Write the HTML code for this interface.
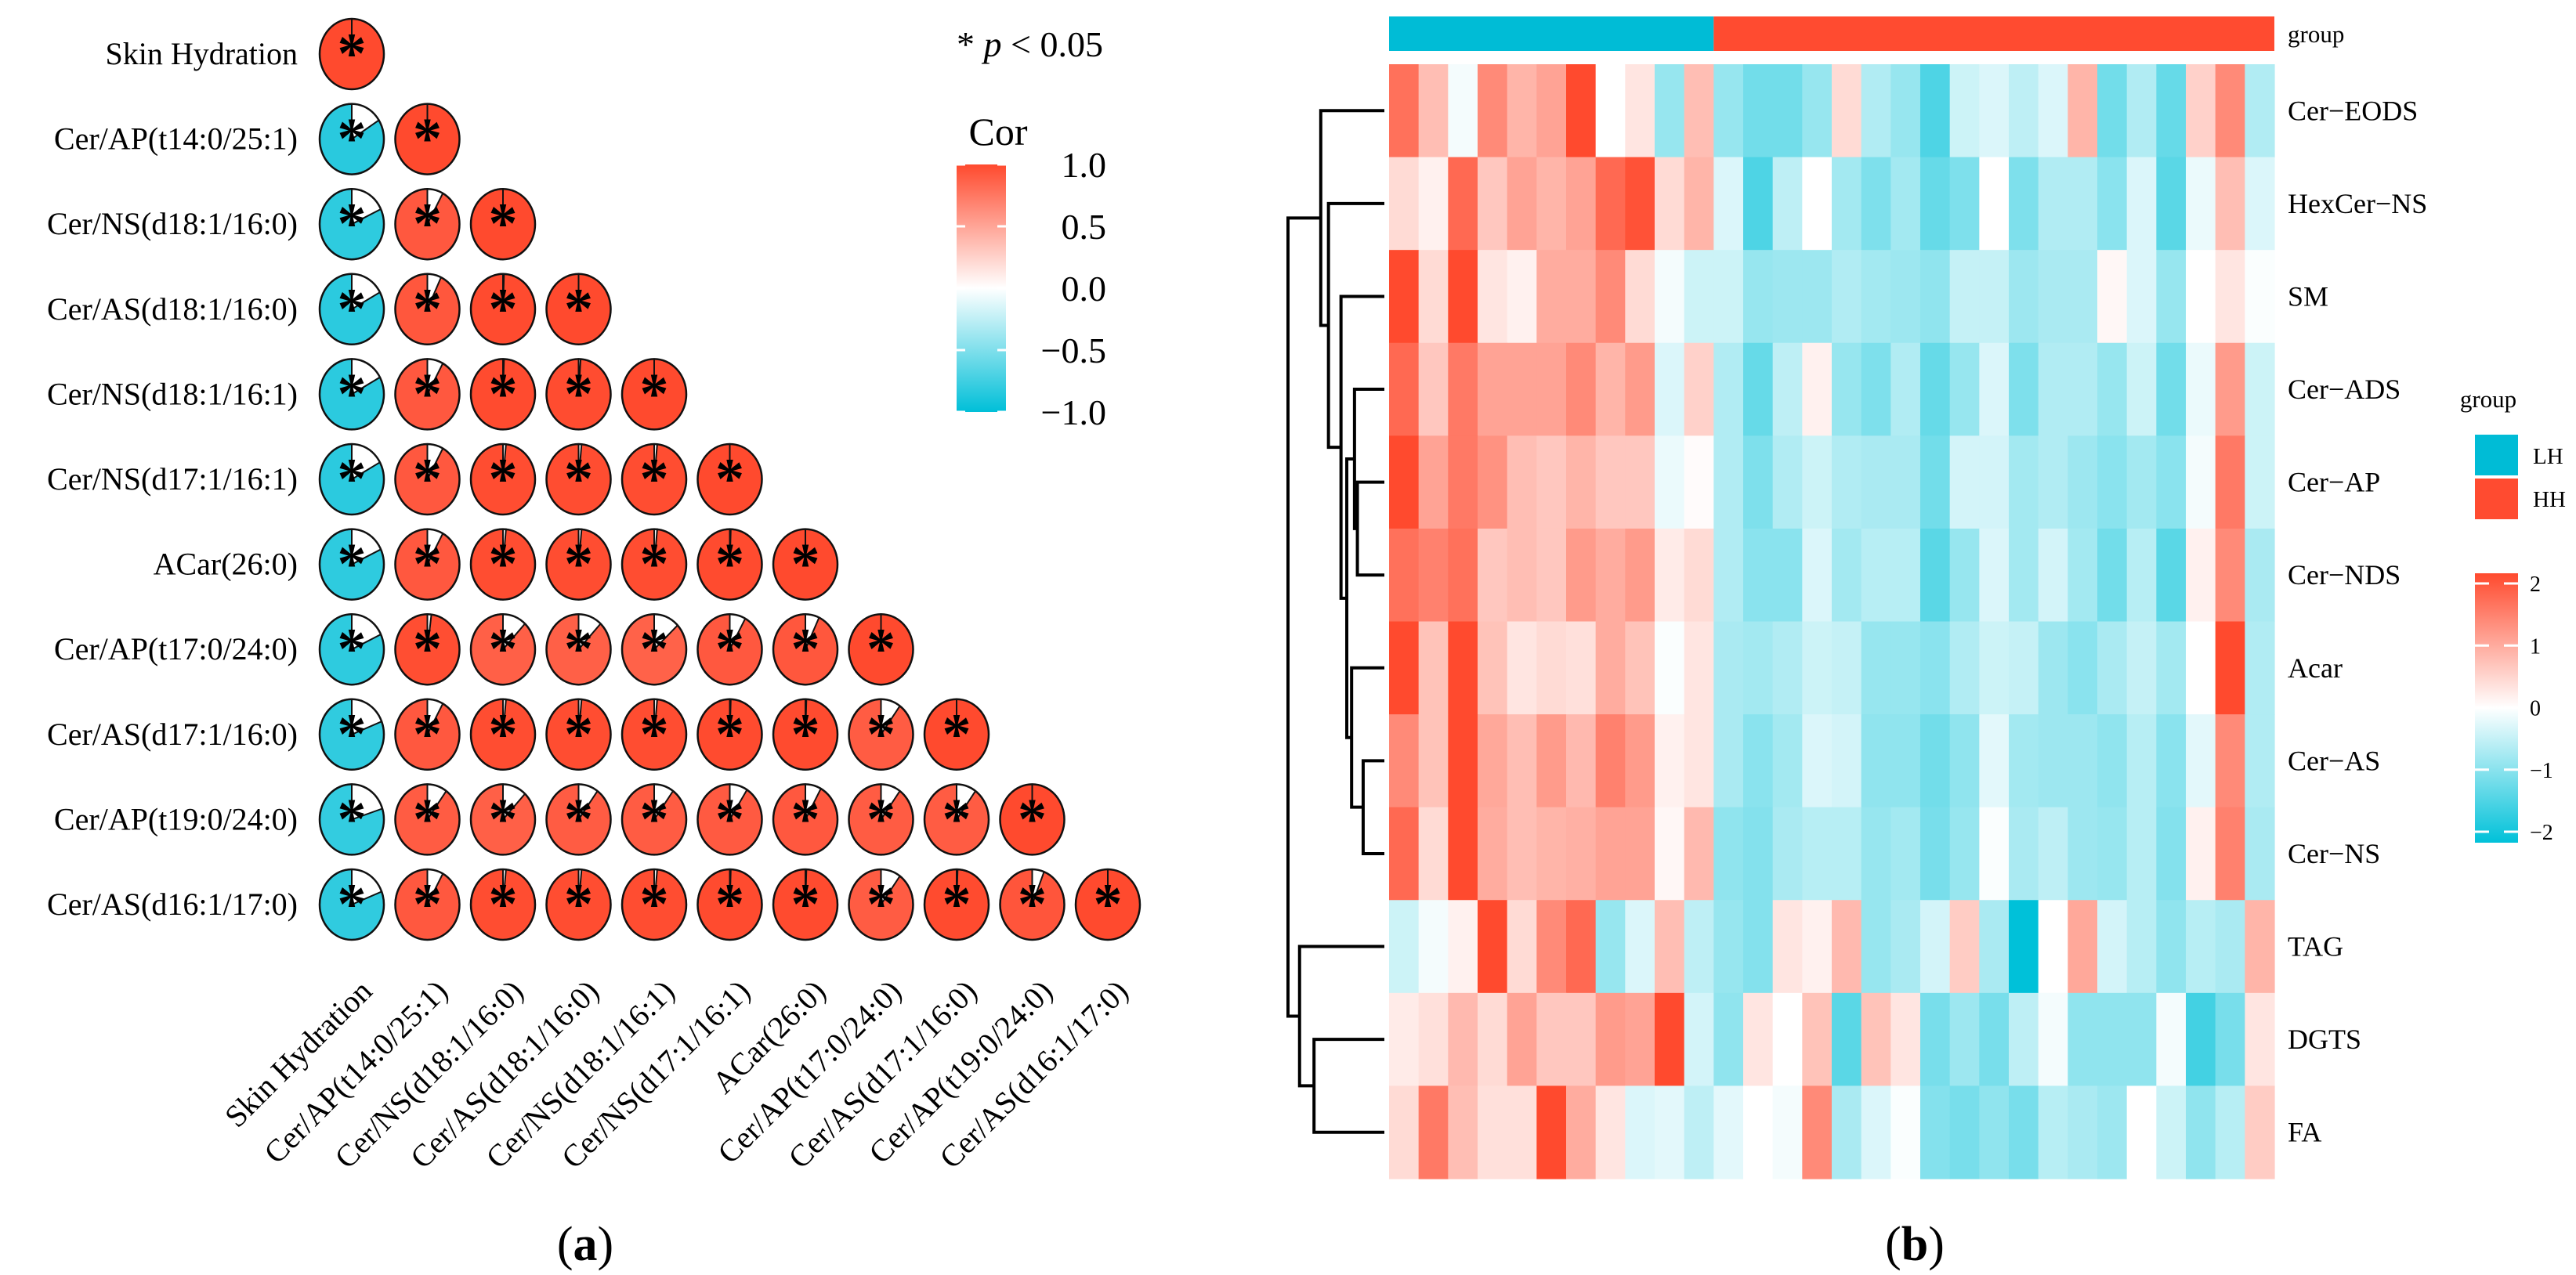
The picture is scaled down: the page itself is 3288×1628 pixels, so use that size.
<!DOCTYPE html>
<html><head><meta charset="utf-8"><style>
html,body{margin:0;padding:0;background:#fff;}
svg{display:block;font-family:"Liberation Serif",serif;}
</style></head><body>
<svg id="fig" width="3288" height="1628" viewBox="0 0 3288 1628" xmlns="http://www.w3.org/2000/svg">
<defs>
<linearGradient id="corGrad" x1="0" y1="0" x2="0" y2="1">
<stop offset="0" stop-color="#FF4A2E"/><stop offset="0.5" stop-color="#FFFFFF"/><stop offset="1" stop-color="#00BFD8"/>
</linearGradient>
<linearGradient id="hmGrad" x1="0" y1="0" x2="0" y2="1">
<stop offset="0" stop-color="#FF4A2E"/><stop offset="0.5" stop-color="#FFFFFF"/><stop offset="1" stop-color="#00C1D9"/>
</linearGradient>
</defs>
<g id="panelA"></g>
<g id="panelB"></g>
<text x="747" y="1609" font-size="62" text-anchor="middle">(<tspan font-weight="bold">a</tspan>)</text>
<text x="2444" y="1609" font-size="62" text-anchor="middle">(<tspan font-weight="bold">b</tspan>)</text>
</svg>
<script>
// ---------- Panel A data ----------
const corLabels = ["Skin Hydration","Cer/AP(t14:0/25:1)","Cer/NS(d18:1/16:0)","Cer/AS(d18:1/16:0)","Cer/NS(d18:1/16:1)","Cer/NS(d17:1/16:1)","ACar(26:0)","Cer/AP(t17:0/24:0)","Cer/AS(d17:1/16:0)","Cer/AP(t19:0/24:0)","Cer/AS(d16:1/17:0)"];
const corRow1 = [-0.84, 1];
const corRow2 = [-0.82, 0.92, 1];
const corRow3 = [-0.83, 0.93, 0.995, 1];
const corRow4 = [-0.83, 0.92, 0.995, 0.99, 1];
const corRow5 = [-0.83, 0.92, 0.985, 0.985, 0.985, 1];
const corRow6 = [-0.82, 0.92, 0.985, 0.985, 0.985, 0.995, 1];
const corRow7 = [-0.82, 0.98, 0.88, 0.88, 0.87, 0.92, 0.93, 1];
const corRow8 = [-0.81, 0.92, 0.985, 0.985, 0.985, 0.995, 0.995, 0.9, 1];
const corRow9 = [-0.8, 0.9, 0.88, 0.9, 0.9, 0.91, 0.92, 0.9, 0.9, 1];
const corRow10 = [-0.81, 0.92, 0.985, 0.985, 0.985, 0.995, 0.995, 0.9, 0.995, 0.94, 1];
const corRows = [[1], corRow1, corRow2, corRow3, corRow4, corRow5, corRow6, corRow7, corRow8, corRow9, corRow10];
const corTicks = ["1.0","0.5","0.0","\u22120.5","\u22121.0"];
const corTickVals = [1, 0.5, 0, -0.5, -1];

// ---------- Panel B data ----------
const hmRows = ["Cer\u2212EODS","HexCer\u2212NS","SM","Cer\u2212ADS","Cer\u2212AP","Cer\u2212NDS","Acar","Cer\u2212AS","Cer\u2212NS","TAG","DGTS","FA"];
const groupLH = 11;
const groupHH = 19;
const hmEODS = [1.5,0.6,-0.05,1.2,0.7,0.9,2,0,0.2,-0.7,0.6,-0.7,-1.0,-1.0,-0.7,0.3,-0.5,-0.7,-1.3,-0.3,-0.2,-0.4,-0.2,0.7,-1.0,-0.5,-1.1,0.4,1.2,-0.5];
const hmHexNS = [0.3,0.1,1.6,0.5,0.9,0.7,0.9,1.6,1.9,0.3,0.7,-0.2,-1.3,-0.4,0,-0.6,-0.9,-0.6,-1.1,-0.9,0,-0.9,-0.5,-0.5,-0.8,-0.2,-1.2,-0.1,0.6,-0.2];
const hmSM = [2,0.3,2,0.2,0.1,0.8,0.8,1.2,0.3,-0.05,-0.3,-0.3,-0.7,-0.65,-0.65,-0.5,-0.6,-0.65,-0.75,-0.35,-0.35,-0.65,-0.55,-0.55,0.05,-0.2,-0.7,0,0.2,-0.02];
const hmADS = [1.6,0.5,1.4,0.9,0.9,0.9,1.2,0.7,1.0,-0.2,0.4,-0.5,-1.1,-0.4,0.1,-0.7,-0.9,-0.5,-1.1,-0.7,-0.2,-0.9,-0.5,-0.5,-0.7,-0.3,-1.0,-0.1,1.0,-0.3];
const hmAP = [2,0.9,1.4,1.1,0.6,0.5,0.7,0.5,0.5,-0.1,0.02,-0.5,-0.9,-0.5,-0.3,-0.5,-0.55,-0.55,-1.0,-0.25,-0.25,-0.6,-0.5,-0.65,-0.8,-0.6,-0.8,-0.05,1.4,-0.3];
const hmNDS = [1.5,1.3,1.5,0.5,0.6,0.5,1.0,0.8,1.0,0.15,0.3,-0.5,-0.8,-0.8,-0.2,-0.6,-0.45,-0.45,-1.2,-0.7,-0.2,-0.6,-0.25,-0.6,-1.0,-0.45,-1.2,0.1,1.2,-0.55];
const hmAcar = [2,0.55,2,0.55,0.2,0.3,0.25,0.8,0.55,-0.02,0.2,-0.55,-0.6,-0.5,-0.3,-0.35,-0.7,-0.7,-0.8,-0.5,-0.3,-0.35,-0.65,-0.8,-0.55,-0.35,-0.6,0,2,-0.5];
const hmAS = [1.2,0.55,2,0.85,0.6,1.0,0.65,1.3,1.0,0.1,0.2,-0.55,-0.8,-0.6,-0.2,-0.25,-0.75,-0.75,-1.0,-0.75,-0.15,-0.6,-0.65,-0.65,-0.75,-0.45,-0.8,-0.15,1.2,-0.5];
const hmNS = [1.6,0.3,2,0.8,0.6,0.7,0.75,0.9,0.9,0.05,0.65,-0.75,-0.85,-0.55,-0.45,-0.45,-0.7,-0.6,-0.95,-0.7,-0.02,-0.55,-0.4,-0.65,-0.7,-0.45,-0.85,0.1,1.3,-0.55];
const hmTAG = [-0.3,-0.05,0.1,2,0.3,1.2,1.6,-0.7,-0.2,0.6,-0.4,-0.7,-0.85,0.2,0.1,0.65,-0.7,-0.55,-0.25,0.45,-0.55,-2,0,0.85,-0.25,-0.45,-0.75,-0.45,-0.55,0.7];
const hmDGTS = [0.15,0.25,0.65,0.3,0.9,0.5,0.5,1.0,0.9,2,-0.25,-0.75,0.2,0,0.55,-1.2,0.55,0.2,-0.95,-0.65,-0.95,-0.4,-0.05,-0.75,-0.75,-0.75,-0.05,-1.4,-0.95,0.2];
const hmFA = [0.3,1.4,0.6,0.25,0.25,2,0.8,0.2,-0.2,-0.15,-0.4,-0.15,0,-0.05,1.2,-0.55,-0.2,-0.02,-0.85,-0.95,-0.75,-0.95,-0.45,-0.55,-0.65,0,-0.3,-0.75,-0.45,0.45];
const hmData = [hmEODS,hmHexNS,hmSM,hmADS,hmAP,hmNDS,hmAcar,hmAS,hmNS,hmTAG,hmDGTS,hmFA];
const hmTicks = ["2","1","0","\u22121","\u22122"];
const hmTickVals = [2,1,0,-1,-2];
const dendMerges = [
  [4, 5, 0.28],
  [3, "n0", 0.31],
  [7, 8, 0.22],
  [6, "n2", 0.34],
  ["n1","n3",0.39],
  [2, "n4", 0.45],
  [1, "n5", 0.58],
  [0, "n6", 0.66],
  [10, 11, 0.73],
  [9, "n8", 0.88],
  ["n7","n9",1.0]
];

const NS = "http://www.w3.org/2000/svg";
function mk(tag, attrs, parent){
  const e = document.createElementNS(NS, tag);
  for (const k in attrs) e.setAttribute(k, attrs[k]);
  parent.appendChild(e);
  return e;
}
function mix(c1, c2, t){
  return "rgb(" + c1.map((v,i)=>Math.round(v+(c2[i]-v)*t)).join(",") + ")";
}
const RED=[255,74,46], WHITE=[255,255,255], CYAN=[0,191,216], CYAN2=[0,193,217];

// ---------- Panel A ----------
const A = document.getElementById("panelA");
const cx0 = 449, dx = 96.5, cy0 = 69, dy = 108.6, rx = 41, ry = 45;
const colX = j => cx0 + j*dx;
const rowY = i => cy0 + i*dy;
function corColor(r){ return r>=0 ? mix(WHITE, RED, r) : mix(WHITE, CYAN, -r); }

corLabels.forEach((lab,i)=>{
  const t = mk("text",{x:380,y:rowY(i)+13,"font-size":40,"text-anchor":"end"},A);
  t.textContent = lab;
  
  
  const b = mk("text",{x:colX(i)+28,y:1268,"font-size":40,"text-anchor":"end",transform:`rotate(-45 ${colX(i)+28} 1268)`},A);
  b.textContent = lab;
  
  
});

corRows.forEach((row,i)=>{
  row.forEach((r,j)=>{
    const cx = colX(j), cy = rowY(i);
    const g = mk("g",{},A);
    
    
    mk("ellipse",{cx:cx,cy:cy,rx:rx,ry:ry,fill:"#fff"},g);
    const a = Math.abs(r);
    const gap = (1-a)*2*Math.PI;
    if (a >= 0.999) {
      mk("ellipse",{cx:cx,cy:cy,rx:rx,ry:ry,fill:corColor(r)},g);
    } else {
      const sx = cx + rx*Math.sin(gap), sy = cy - ry*Math.cos(gap);
      const large = (2*Math.PI-gap) > Math.PI ? 1 : 0;
      mk("path",{d:`M${cx},${cy} L${sx},${sy} A${rx},${ry} 0 ${large} 1 ${cx},${cy-ry} Z`,fill:corColor(r),stroke:"#111","stroke-width":2},g);
    }
    mk("line",{x1:cx,y1:cy,x2:cx,y2:cy-ry,stroke:"#111","stroke-width":2},g);
    mk("ellipse",{cx:cx,cy:cy,rx:rx,ry:ry,fill:"none",stroke:"#111","stroke-width":2.5},g);
    const s = mk("text",{x:cx,y:cy+24,"font-size":74,"font-weight":"bold","text-anchor":"middle","font-family":"Liberation Serif, serif"},g);
    s.textContent = "*";
  });
});

const pl = mk("text",{x:1221,y:72,"font-size":46},A);
pl.innerHTML = '* <tspan font-style="italic">p</tspan> &lt; 0.05';


const ct = mk("text",{x:1274,y:185,"font-size":50,"text-anchor":"middle"},A);
ct.textContent = "Cor";


const cbTop = 210, cbBot = 526;
const cbr = mk("rect",{x:1221,y:cbTop,width:63,height:cbBot-cbTop,fill:"url(#corGrad)"},A);


const corY = v => cbTop + (1-v)/2*(cbBot-cbTop);
corTickVals.forEach((v,k)=>{
  const y = corY(v);
  mk("line",{x1:1221,y1:y,x2:1232,y2:y,stroke:"#fff","stroke-width":3},A);
  mk("line",{x1:1273,y1:y,x2:1284,y2:y,stroke:"#fff","stroke-width":3},A);
  const t = mk("text",{x:1412,y:y+16,"font-size":46,"text-anchor":"end"},A);
  t.textContent = corTicks[k];
  
  
});

// ---------- Panel B ----------
const B = document.getElementById("panelB");
const hx0 = 1773, hx1 = 2903, hy0 = 82, hy1 = 1505;
const nCols = groupLH + groupHH;
const cw = (hx1-hx0)/nCols, rh = (hy1-hy0)/hmRows.length;
const hmX = j => hx0 + j*cw;
const hmY = i => hy0 + i*rh;
function hmColor(v){ v=Math.max(-2,Math.min(2,v)); const t=Math.pow(Math.abs(v)/2,0.85); return v>=0 ? mix(WHITE, RED, t) : mix(WHITE, CYAN2, t); }

const gl = mk("rect",{x:hx0,y:21,width:groupLH*cw,height:44,fill:"#00BCD6"},B);


const gh = mk("rect",{x:hmX(groupLH),y:21,width:groupHH*cw,height:44,fill:"#FF4B30"},B);


const gt = mk("text",{x:2920,y:54,"font-size":31},B);
gt.textContent = "group";



hmData.forEach((row,i)=>{
  row.forEach((v,j)=>{
    const c = mk("rect",{x:hmX(j),y:hmY(i),width:cw+0.6,height:rh+0.6,fill:hmColor(v)},B);
    
    
  });
  const t = mk("text",{x:2920,y:hmY(i)+rh/2+12,"font-size":36},B);
  t.textContent = hmRows[i];
  
  
});

const dLeafX = 1767, dRootX = 1644;
const dX = h => dLeafX - h*(dLeafX-dRootX);
const nodePos = {};
const dg = mk("g",{stroke:"#000","stroke-width":4,fill:"none"},B);


function pos(k){
  if (typeof k === "number") return {x:dLeafX, y:hmY(k)+rh/2};
  return nodePos[k];
}
dendMerges.forEach((m,idx)=>{
  const a = pos(m[0]), b = pos(m[1]), x = dX(m[2]);
  mk("path",{d:`M${a.x},${a.y} H${x} V${b.y} H${b.x}`},dg);
  nodePos["n"+idx] = {x:x, y:(a.y+b.y)/2};
});

const glt = mk("text",{x:3176,y:520,"font-size":31,"text-anchor":"middle"},B);
glt.textContent = "group";


const lb1 = mk("rect",{x:3159,y:555,width:55,height:52,fill:"#00BCD6"},B);


const lb2 = mk("rect",{x:3159,y:611,width:55,height:52,fill:"#FF4B30"},B);


const l1 = mk("text",{x:3233,y:592,"font-size":29},B);
l1.textContent = "LH";


const l2 = mk("text",{x:3233,y:647,"font-size":29},B);
l2.textContent = "HH";



const hcTop = 745, hcBot = 1062;
const hcY = v => hcTop + (2-v)/4*(hcBot-hcTop);
const hcb = mk("rect",{x:3159,y:732,width:55,height:344,fill:"url(#hmGrad)"},B);


hmTickVals.forEach((v,k)=>{
  const y = hcY(v);
  mk("line",{x1:3159,y1:y,x2:3177,y2:y,stroke:"#fff","stroke-width":3},B);
  mk("line",{x1:3196,y1:y,x2:3214,y2:y,stroke:"#fff","stroke-width":3},B);
  const t = mk("text",{x:3229,y:y+10,"font-size":28},B);
  t.textContent = hmTicks[k];
  
  
});
</script>
</body></html>
